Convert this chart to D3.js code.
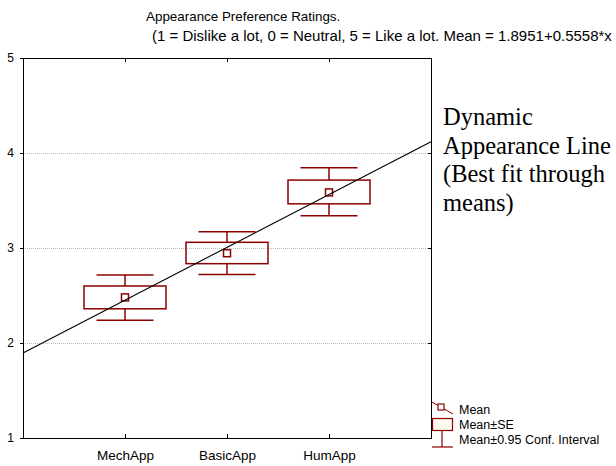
<!DOCTYPE html>
<html>
<head>
<meta charset="utf-8">
<script src="https://cdn.jsdelivr.net/npm/d3@7"></script>
<style>
  html, body { margin: 0; padding: 0; background: #fff; }
  svg { display: block; }
</style>
</head>
<body>
<script>
// ---- data ----
const categories = ["MechApp", "BasicApp", "HumApp"];
const means  = [2.48, 2.945, 3.585];
const seLow  = [2.36, 2.835, 3.465];
const seHigh = [2.60, 3.06, 3.715];
const ciLow  = [2.24, 2.72, 3.34];
const ciHigh = [2.715, 3.17, 3.845];
const yTicks = [1, 2, 3, 4, 5];
const gridValues = [2, 3, 4];
const fitIntercept = 1.8951;
const fitSlope = 0.5558;
const titleText = "Appearance Preference Ratings.";
const subtitleText = "(1 = Dislike a lot, 0 = Neutral, 5 = Like a lot. Mean = 1.8951+0.5558*x";
const annotationLines = ["Dynamic", "Appearance Line", "(Best fit through", "means)"];
const legendLabels = ["Mean", "Mean\u00B1SE", "Mean\u00B10.95 Conf. Interval"];

// ---- layout ----
const W = 616, H = 466;
const pL = 23, pR = 431, pT = 58, pB = 438;
const red = "#8b0000";
const sans = "'Liberation Sans', Arial, sans-serif";
const serif = "'Liberation Serif', 'Times New Roman', serif";

const svg = d3.select("body").append("svg").attr("width", W).attr("height", H)
  .style("font-family", sans);

const x = d3.scaleLinear().domain([0, categories.length + 1]).range([pL, pR]);
const y = d3.scaleLinear().domain([1, 5]).range([pB, pT]);

// grid
svg.append("g").selectAll("line").data(gridValues).join("line")
  .attr("x1", pL).attr("x2", pR)
  .attr("y1", d => y(d) + 0.5).attr("y2", d => y(d) + 0.5)
  .attr("stroke", "#bbbbbb").attr("stroke-width", 1).attr("stroke-dasharray", "1,1")
  .attr("shape-rendering", "crispEdges");

// frame
svg.append("rect").attr("x", pL + 0.5).attr("y", pT + 0.5)
  .attr("width", pR - pL).attr("height", pB - pT)
  .attr("fill", "none").attr("stroke", "#000").attr("stroke-width", 1)
  .attr("shape-rendering", "crispEdges");

// axes (inward ticks)
const catIdx = categories.map((c, i) => i + 1);
const xAxisB = d3.axisBottom(x).tickValues(catIdx).tickFormat(d => categories[d - 1]).tickSize(-4).tickPadding(12);
const gxb = svg.append("g").attr("transform", `translate(0,${pB})`).call(xAxisB);
gxb.select(".domain").remove();
gxb.selectAll("text").attr("font-size", 13.5).attr("fill", "#000").style("font-family", sans);
gxb.selectAll("line").attr("stroke", "#000");

const xAxisT = d3.axisTop(x).tickValues(catIdx).tickFormat("").tickSize(-4);
const gxt = svg.append("g").attr("transform", `translate(0,${pT})`).call(xAxisT);
gxt.select(".domain").remove();
gxt.selectAll("line").attr("stroke", "#000");

const yAxisL = d3.axisLeft(y).tickValues(yTicks).tickFormat(d3.format("d")).tickSize(3).tickPadding(6);
const gyl = svg.append("g").attr("transform", `translate(${pL},0)`).call(yAxisL);
gyl.select(".domain").remove();
gyl.selectAll("text").attr("font-size", 12).attr("fill", "#000").style("font-family", sans);
gyl.selectAll("line").attr("stroke", "#000");

const yAxisR = d3.axisRight(y).tickValues(yTicks).tickFormat("").tickSize(-3);
const gyr = svg.append("g").attr("transform", `translate(${pR},0)`).call(yAxisR);
gyr.select(".domain").remove();
gyr.selectAll("line").attr("stroke", "#000");

// boxes
const boxHalf = 41, capHalf = 28.5;
const groups = svg.append("g").selectAll("g").data(categories).join("g");
groups.append("line")
  .attr("x1", (d, i) => x(i + 1)).attr("x2", (d, i) => x(i + 1))
  .attr("y1", (d, i) => y(ciHigh[i])).attr("y2", (d, i) => y(seHigh[i]))
  .attr("stroke", red).attr("stroke-width", 1.5);
groups.append("line")
  .attr("x1", (d, i) => x(i + 1)).attr("x2", (d, i) => x(i + 1))
  .attr("y1", (d, i) => y(seLow[i])).attr("y2", (d, i) => y(ciLow[i]))
  .attr("stroke", red).attr("stroke-width", 1.5);
groups.append("line")
  .attr("x1", (d, i) => x(i + 1) - capHalf).attr("x2", (d, i) => x(i + 1) + capHalf)
  .attr("y1", (d, i) => y(ciHigh[i])).attr("y2", (d, i) => y(ciHigh[i]))
  .attr("stroke", red).attr("stroke-width", 1.5);
groups.append("line")
  .attr("x1", (d, i) => x(i + 1) - capHalf).attr("x2", (d, i) => x(i + 1) + capHalf)
  .attr("y1", (d, i) => y(ciLow[i])).attr("y2", (d, i) => y(ciLow[i]))
  .attr("stroke", red).attr("stroke-width", 1.5);
groups.append("rect")
  .attr("x", (d, i) => x(i + 1) - boxHalf).attr("width", boxHalf * 2)
  .attr("y", (d, i) => y(seHigh[i])).attr("height", (d, i) => y(seLow[i]) - y(seHigh[i]))
  .attr("fill", "none").attr("stroke", red).attr("stroke-width", 1.5);

// fit line
const fitDomain = x.domain();
svg.append("line")
  .attr("x1", x(fitDomain[0])).attr("y1", y(fitIntercept + fitSlope * fitDomain[0]))
  .attr("x2", x(fitDomain[1])).attr("y2", y(fitIntercept + fitSlope * fitDomain[1]))
  .attr("stroke", "#000").attr("stroke-width", 1.1);

// mean markers
groups.append("rect")
  .attr("x", (d, i) => x(i + 1) - 3.5).attr("y", (d, i) => y(means[i]) - 3.5)
  .attr("width", 7).attr("height", 7)
  .attr("fill", "#fff").attr("stroke", red).attr("stroke-width", 1.5);

// title
svg.append("text").attr("x", 146).attr("y", 21).attr("font-size", 13.4).attr("fill", "#000").text(titleText);
svg.append("text").attr("x", 152).attr("y", 41).attr("font-size", 15).attr("fill", "#000").text(subtitleText);

// annotation
svg.append("g").selectAll("text").data(annotationLines).join("text")
  .attr("x", 443).attr("y", (d, i) => 125 + i * 28.5)
  .style("font-family", serif)
  .attr("font-size", 24.5).attr("fill", "#000").text(d => d);

// legend
const lg = svg.append("g");
lg.append("line").attr("x1", 432).attr("y1", 402).attr("x2", 453).attr("y2", 414)
  .attr("stroke", red).attr("stroke-width", 1);
lg.append("rect").attr("x", 438).attr("y", 404).attr("width", 6).attr("height", 6)
  .attr("fill", "#fff").attr("stroke", red).attr("stroke-width", 1.2);
lg.append("rect").attr("x", 432.5).attr("y", 418.5).attr("width", 20).attr("height", 12)
  .attr("fill", "#fff8ee").attr("stroke", red).attr("stroke-width", 1.2);
lg.append("line").attr("x1", 442).attr("y1", 431).attr("x2", 442).attr("y2", 447)
  .attr("stroke", red).attr("stroke-width", 1.2);
lg.append("line").attr("x1", 432).attr("y1", 447).attr("x2", 453).attr("y2", 447)
  .attr("stroke", red).attr("stroke-width", 1.2);
lg.selectAll("text.lab").data(legendLabels).join("text").attr("class", "lab")
  .attr("x", 459).attr("y", (d, i) => 414 + i * 15)
  .attr("font-size", 12.5).attr("fill", "#000").text(d => d);
</script>
</body>
</html>
